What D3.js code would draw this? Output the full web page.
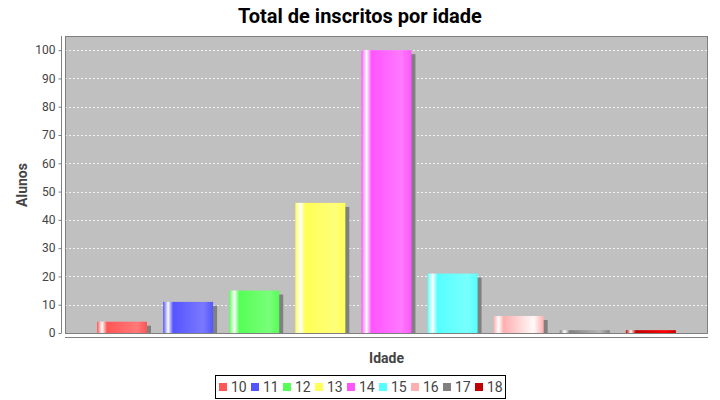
<!DOCTYPE html>
<html><head><meta charset="utf-8">
<script src="https://cdn.jsdelivr.net/npm/d3@7"></script>
<style>body{margin:0;background:#fff}svg{display:block;font-family:Roboto,"Liberation Sans",sans-serif}</style>
</head><body><svg id="c" width="720" height="400"></svg>
<script>
const categories = ["10","11","12","13","14","15","16","17","18"];
const values = [4, 11, 15, 46, 100, 21, 6, 1, 1];
const colors = ["#FF5555","#5555FF","#55FF55","#FFFF55","#FF55FF","#55FFFF","#FFAFAF","#808080","#C00000"];
const yTicks = [0,10,20,30,40,50,60,70,80,90,100];

const svg = d3.select("#c");
const L = 65, R = 708, T = 36, B = 333;
const y = d3.scaleLinear().domain([0,105]).range([B,T]);
const x = d3.scaleBand().domain(categories).range([L+32, R-32+16]).paddingInner(0).paddingOuter(0);
const bw = 50;

function brighter(c){
  const col = d3.rgb(c); const f = 0.7, i = 3;
  function b(v){ if(v>0 && v<i) v=i; return Math.min(255, Math.floor(v/f)); }
  let r=col.r,g=col.g,bl=col.b;
  if(r===0&&g===0&&bl===0) return d3.rgb(i,i,i).formatHex();
  return d3.rgb(b(r),b(g),b(bl)).formatHex();
}

const defs = svg.append("defs");
categories.forEach((c,k)=>{
  const c0 = colors[k], c1 = brighter(c0);
  const g = defs.append("linearGradient").attr("id","g"+k).attr("x1","0").attr("x2","1").attr("y1","0").attr("y2","0");
  [[0,c0],[0.10,"#ffffff"],[0.20,c0],[0.80,c1],[1,c0]].forEach(s=>g.append("stop").attr("offset",s[0]).attr("stop-color",s[1]));
});

// title
svg.append("text").attr("x",360).attr("y",23).attr("text-anchor","middle")
  .attr("font-size",20).attr("font-weight","bold").attr("fill","#000").text("Total de inscritos por idade");

// plot bg
svg.append("rect").attr("x",L).attr("y",T).attr("width",R-L).attr("height",B-T).attr("fill","#C0C0C0");
// grid
svg.append("g").selectAll("line").data(yTicks).join("line")
  .attr("x1",L).attr("x2",R).attr("y1",d=>Math.round(y(d))+0.5).attr("y2",d=>Math.round(y(d))+0.5)
  .attr("stroke","#ffffff").attr("stroke-width",0.8).attr("stroke-dasharray","2,2");

// shadows
svg.append("g").selectAll("rect").data(values).join("rect")
  .attr("x",(d,i)=>x(categories[i])+4).attr("y",d=>y(d)+4)
  .attr("width",bw).attr("height",d=>Math.max(0,B-y(d)-4)).attr("fill","#808080");
// bars
svg.append("g").selectAll("rect").data(values).join("rect")
  .attr("x",(d,i)=>x(categories[i])).attr("y",d=>y(d))
  .attr("width",bw).attr("height",d=>B-y(d)).attr("fill",(d,i)=>"url(#g"+i+")");

// plot outline
svg.append("rect").attr("x",L+0.5).attr("y",T+0.5).attr("width",R-L-1).attr("height",B-T).attr("fill","none").attr("stroke","#808080").attr("stroke-width",1);

// y axis
const ya = svg.append("g").attr("transform",`translate(${61.5},0)`)
  .call(d3.axisLeft(y).tickValues(yTicks).tickSize(3).tickPadding(3).tickSizeOuter(0));
ya.select(".domain").attr("stroke","#808080").attr("d",`M0,${T}V${B}`);
ya.selectAll(".tick line").attr("stroke","#808080");
ya.selectAll("text").attr("font-size",12).attr("fill","#444").attr("font-family","Roboto,sans-serif");

// x axis line
svg.append("line").attr("x1",L).attr("x2",R).attr("y1",337.5).attr("y2",337.5).attr("stroke","#808080").attr("stroke-width",1);

// axis labels
svg.append("text").attr("transform","translate(27,185) rotate(-90)").attr("text-anchor","middle")
  .attr("font-size",14).attr("font-weight","bold").attr("fill","#444").text("Alunos");
svg.append("text").attr("x",(L+R)/2).attr("y",363).attr("text-anchor","middle")
  .attr("font-size",14).attr("font-weight","bold").attr("fill","#444").text("Idade");

// legend
svg.append("rect").attr("x",215.5).attr("y",375.5).attr("width",290).attr("height",23).attr("fill","#fff").attr("stroke","#000");
const lg = svg.append("g").selectAll("g").data(categories).join("g")
  .attr("transform",(d,i)=>`translate(${219+i*32},0)`);
lg.append("rect").attr("x",0).attr("y",383).attr("width",8).attr("height",8).attr("fill",(d,i)=>colors[i]);
lg.append("text").attr("x",12).attr("y",392).attr("font-size",14).attr("fill","#444").text(d=>d);
</script></body></html>
